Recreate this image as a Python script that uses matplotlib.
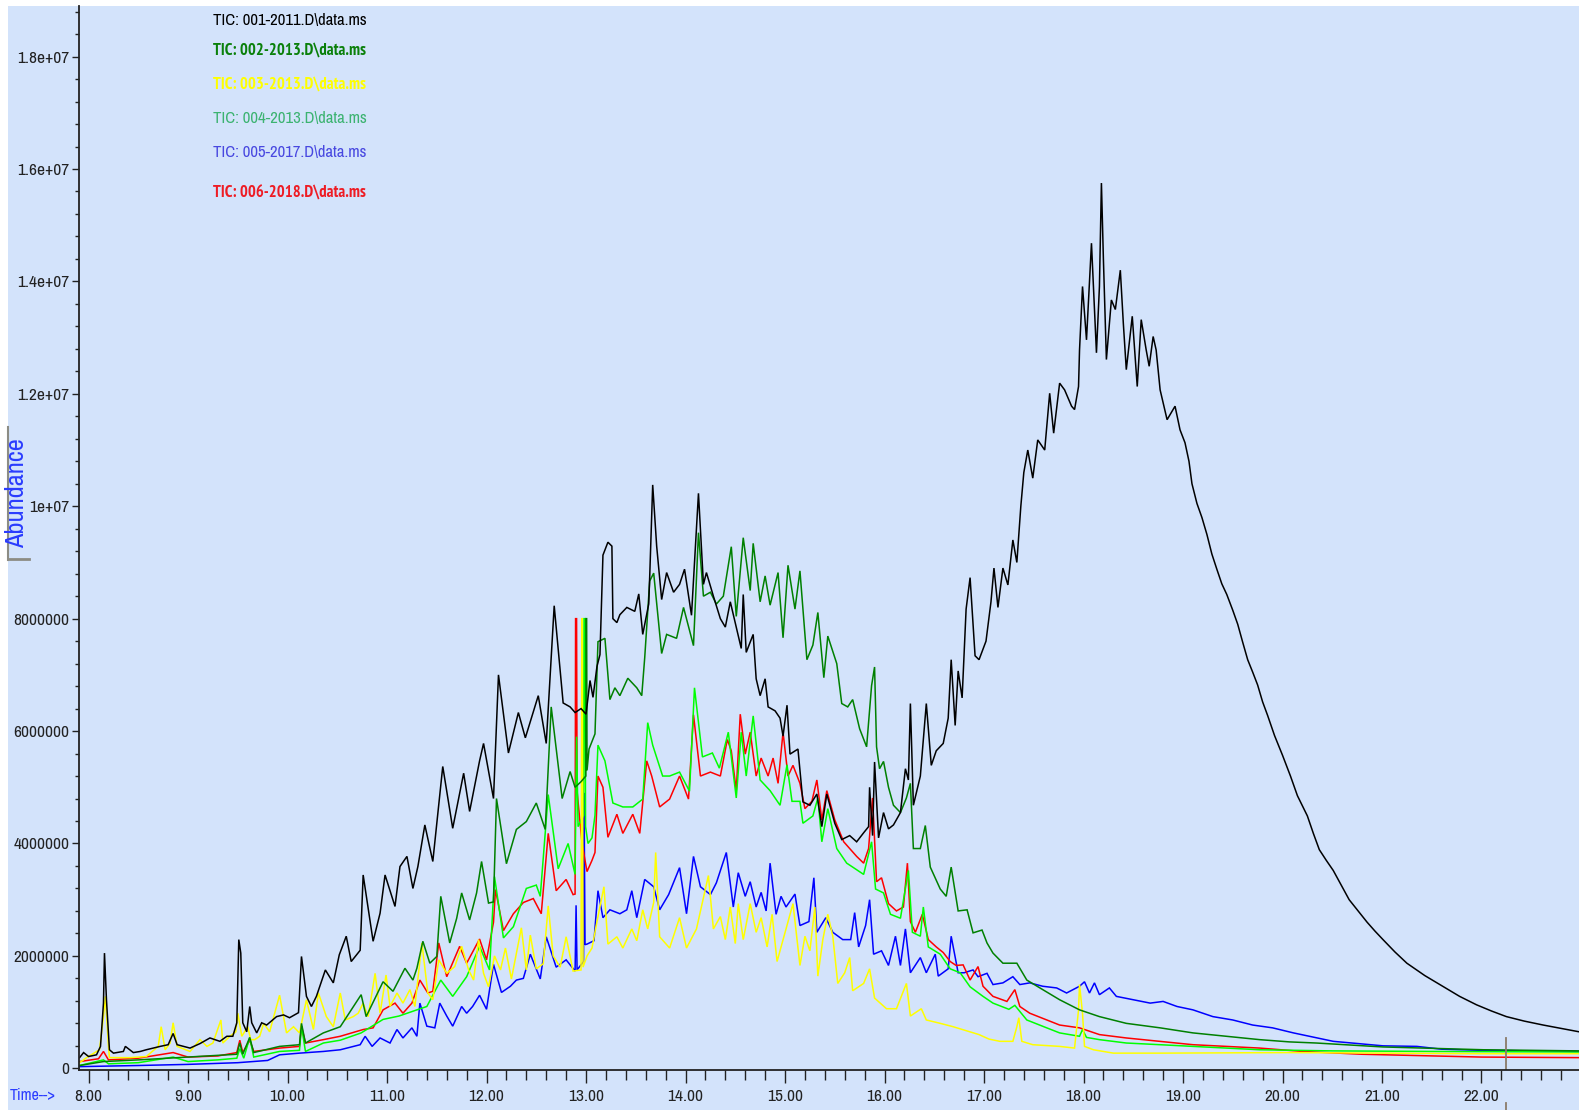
import numpy as np
import matplotlib
matplotlib.use("Agg")
import matplotlib.pyplot as plt
from matplotlib import font_manager
from matplotlib.font_manager import FontProperties
from matplotlib.lines import Line2D
from matplotlib.patches import Rectangle


# the chart uses a narrow sans face; take the narrowest sans one we have
def narrow_font(bold=False):
    best = None
    for f in font_manager.fontManager.ttflist:
        if "Mono" in f.name or "Serif" in f.name or f.style != "normal":
            continue
        w = f.weight if isinstance(f.weight, int) else (700 if "bold" in str(f.weight) else 400)
        if (w >= 600) != bold:
            continue
        st = str(f.stretch)
        score = None
        if "Liberation Sans Narrow" in f.name or "Arial Narrow" in f.name:
            score = 0
        elif "Narrow" in f.name:
            score = 1
        elif "Condensed" in f.name and "Semi" not in f.name and "Extra" not in f.name:
            score = 2
        elif st in ("condensed", "extra-condensed", "ultra-condensed"):
            score = 3
        elif st == "semi-condensed" or "SemiCondensed" in f.name:
            score = 4
        if score is not None and (best is None or score < best[0]):
            best = (score, f.fname)
    if best is None:
        return None
    return best[1]


reg_file = narrow_font(False)
bold_file = narrow_font(True) or reg_file
have_narrow = reg_file is not None


def fp(size, bold=False):
    if have_narrow:
        return FontProperties(fname=bold_file if bold else reg_file, size=size)
    return FontProperties(family="Liberation Sans", size=size * 0.85,
                          weight="bold" if bold else "normal")


# ---- data (time in min, abundance in millions) ----
t001 = [7.91, 7.95, 8.00, 8.08, 8.12, 8.15, 8.16, 8.18, 8.21, 8.25, 8.35, 8.37, 8.45, 8.52, 8.58,
        8.72, 8.80, 8.85, 8.89, 9.02, 9.12, 9.22, 9.32, 9.39, 9.45, 9.49, 9.51, 9.53, 9.55, 9.59,
        9.62, 9.64, 9.69, 9.74, 9.79, 9.89, 9.96, 10.02, 10.11, 10.14, 10.19, 10.24, 10.29, 10.38,
        10.46, 10.52, 10.59, 10.64, 10.73, 10.76, 10.86, 10.93, 10.98, 11.08, 11.13, 11.20, 11.26,
        11.31, 11.38, 11.46, 11.56, 11.66, 11.77, 11.83, 11.93, 11.97, 12.07, 12.12, 12.22, 12.32,
        12.39, 12.52, 12.60, 12.68, 12.77, 12.84, 12.89, 12.95, 13.00, 13.04, 13.07, 13.11, 13.14,
        13.17, 13.22, 13.26, 13.27, 13.31, 13.34, 13.41, 13.49, 13.53, 13.57, 13.63, 13.64, 13.67,
        13.71, 13.76, 13.81, 13.88, 13.94, 13.99, 14.06, 14.11, 14.13, 14.18, 14.21, 14.28, 14.35,
        14.40, 14.45, 14.50, 14.56, 14.58, 14.61, 14.68, 14.71, 14.75, 14.80, 14.83, 14.90, 14.95,
        14.98, 15.02, 15.05, 15.13, 15.18, 15.25, 15.32, 15.37, 15.42, 15.50, 15.57, 15.65, 15.72,
        15.79, 15.84, 15.85, 15.88, 15.90, 15.94, 15.99, 16.04, 16.09, 16.16, 16.21, 16.24, 16.26,
        16.29, 16.36, 16.42, 16.47, 16.52, 16.59, 16.64, 16.67, 16.71, 16.74, 16.78, 16.82, 16.86,
        16.91, 16.95, 17.02, 17.07, 17.10, 17.14, 17.19, 17.24, 17.29, 17.33, 17.37, 17.40, 17.44,
        17.49, 17.54, 17.61, 17.66, 17.70, 17.76, 17.81, 17.88, 17.91, 17.95, 17.96, 17.99, 18.03,
        18.08, 18.13, 18.16, 18.18, 18.20, 18.23, 18.28, 18.32, 18.37, 18.40, 18.43, 18.49, 18.54,
        18.58, 18.63, 18.66, 18.70, 18.73, 18.77, 18.84, 18.92, 18.97, 19.02, 19.06, 19.09, 19.14,
        19.19, 19.24, 19.29, 19.34, 19.39, 19.44, 19.50, 19.55, 19.60, 19.65, 19.70, 19.75, 19.80,
        19.85, 19.92, 20.00, 20.08, 20.15, 20.25, 20.31, 20.37, 20.44, 20.51, 20.59, 20.67, 20.76,
        20.85, 20.93, 21.01, 21.13, 21.25, 21.43, 21.61, 21.78, 21.95, 22.10, 22.25, 22.43, 22.62,
        22.80, 22.98]
a001 = [0.19, 0.28, 0.21, 0.24, 0.39, 1.16, 2.05, 1.22, 0.33, 0.27, 0.30, 0.39, 0.28, 0.30, 0.33,
        0.39, 0.42, 0.62, 0.42, 0.36, 0.44, 0.54, 0.48, 0.57, 0.57, 0.81, 2.29, 2.05, 0.81, 0.65,
        1.10, 0.81, 0.63, 0.81, 0.77, 0.92, 0.95, 0.90, 0.99, 1.99, 1.28, 1.10, 1.28, 1.75,
        1.52, 2.02, 2.35, 1.90, 2.10, 3.44, 2.26, 2.76, 3.44, 2.88, 3.59, 3.77, 3.20,
        3.59, 4.33, 3.68, 5.37, 4.27, 5.25, 4.57, 5.47, 5.78, 4.80, 7.00, 5.61, 6.33,
        5.88, 6.63, 5.78, 8.23, 6.50, 6.43, 6.33, 6.40, 6.30, 6.90, 6.60, 7.15, 7.36,
        9.13, 9.36, 9.29, 8.00, 7.93, 8.07, 8.20, 8.13, 8.44, 7.72, 8.26, 8.75, 10.38,
        9.29, 8.34, 8.82, 8.47, 8.61, 8.88, 8.06, 9.63, 10.23, 8.61, 8.82, 8.40, 8.00,
        7.85, 8.30, 7.92, 7.47, 8.43, 7.40, 7.72, 6.93, 6.63, 6.93, 6.43, 6.36, 6.23,
        5.91, 6.46, 5.59, 5.68, 4.74, 4.68, 4.88, 4.30, 4.88, 4.36, 4.07, 4.14, 4.03,
        4.19, 4.30, 5.00, 4.14, 5.45, 4.10, 4.55, 4.26, 4.33, 4.55, 5.33, 5.13, 6.49,
        4.68, 5.20, 6.49, 5.39, 5.65, 5.78, 6.23, 7.27, 6.10, 7.07, 6.59, 8.17, 8.73,
        7.34, 7.27, 7.60, 8.30, 8.90, 8.20, 8.90, 8.60, 9.40, 9.00, 10.00, 10.60, 11.00,
        10.50, 11.18, 11.00, 12.01, 11.30, 12.19, 12.07, 11.78, 11.72, 12.13, 12.78, 13.91, 12.96,
        14.68, 12.73, 13.91, 15.75, 14.39, 12.61, 13.67, 13.50, 14.20, 13.26, 12.43, 13.38, 12.13,
        13.32, 12.78, 12.49, 13.02, 12.78, 12.07, 11.54, 11.78, 11.36, 11.13, 10.80, 10.40, 10.05,
        9.80, 9.50, 9.15, 8.88, 8.62, 8.43, 8.15, 7.90, 7.58, 7.27, 7.05, 6.82, 6.52,
        6.28, 5.92, 5.57, 5.20, 4.85, 4.49, 4.18, 3.89, 3.70, 3.52, 3.26, 3.00, 2.80,
        2.60, 2.44, 2.29, 2.07, 1.87, 1.65, 1.46, 1.28, 1.13, 1.02, 0.92, 0.84, 0.77,
        0.71, 0.65]

t002 = [7.91, 8.15, 8.50, 9.00, 9.49, 9.52, 9.55, 9.62, 9.66, 9.92, 10.12, 10.14, 10.18, 10.36,
        10.53, 10.74, 10.79, 10.96, 11.06, 11.18, 11.26, 11.30, 11.36, 11.43, 11.50, 11.54, 11.63,
        11.70, 11.75, 11.83, 11.90, 11.95, 12.02, 12.07, 12.10, 12.20, 12.30, 12.40, 12.50, 12.59,
        12.65, 12.76, 12.84, 12.89, 12.95, 12.998, 13.0, 13.006, 13.01, 13.03, 13.09, 13.12, 13.19,
        13.24, 13.29, 13.34, 13.42, 13.51, 13.56, 13.59, 13.64, 13.68, 13.76, 13.81, 13.91, 13.98,
        14.08, 14.13, 14.18, 14.25, 14.31, 14.38, 14.46, 14.51, 14.58, 14.65, 14.68, 14.75, 14.80,
        14.85, 14.93, 14.98, 15.03, 15.10, 15.15, 15.22, 15.28, 15.33, 15.39, 15.43, 15.52, 15.57,
        15.63, 15.68, 15.75, 15.82, 15.87, 15.90, 15.92, 15.95, 15.99, 16.04, 16.09, 16.16, 16.22,
        16.26, 16.29, 16.36, 16.41, 16.46, 16.56, 16.62, 16.67, 16.74, 16.83, 16.89, 16.98, 17.03,
        17.09, 17.19, 17.33, 17.43, 17.59, 17.76, 17.96, 18.16, 18.43, 18.77, 19.10, 19.44, 19.77,
        20.07, 20.34, 21.01, 22.02, 22.98]
a002 = [0.05, 0.12, 0.15, 0.20, 0.25, 0.45, 0.25, 0.55, 0.28, 0.39, 0.42, 0.80, 0.45, 0.63,
        0.74, 1.31, 0.92, 1.54, 1.37, 1.78, 1.57, 1.78, 2.26, 1.87, 1.99, 3.06, 2.23,
        2.67, 3.12, 2.64, 3.12, 3.68, 2.94, 2.96, 4.80, 3.64, 4.25, 4.39, 4.72, 4.25,
        6.43, 4.80, 5.28, 5.00, 5.10, 5.20, 8.00, 8.00, 5.30, 5.68, 5.95, 7.59, 7.65,
        6.56, 6.77, 6.63, 6.94, 6.77, 6.63, 7.31, 8.67, 8.81, 7.38, 7.72, 7.65, 8.20,
        7.52, 9.53, 8.40, 8.47, 8.26, 8.40, 9.28, 8.04, 9.44, 8.50, 9.34, 8.30, 8.76,
        8.24, 8.82, 7.66, 8.95, 8.17, 8.85, 7.27, 7.53, 8.11, 6.95, 7.69, 7.20, 6.49,
        6.43, 6.56, 6.04, 5.72, 6.81, 7.14, 5.72, 5.33, 5.46, 5.00, 4.68, 4.55, 4.81,
        5.07, 3.91, 3.91, 4.32, 3.58, 3.19, 3.06, 3.58, 2.80, 2.82, 2.41, 2.46, 2.23,
        2.05, 1.87, 1.87, 1.57, 1.40, 1.22, 1.04, 0.92, 0.80, 0.72, 0.63, 0.57, 0.51,
        0.47, 0.45, 0.38, 0.33, 0.31]

t003 = [7.91, 7.98, 8.11, 8.15, 8.17, 8.20, 8.21, 8.42, 8.58, 8.70, 8.73, 8.77, 8.82, 8.85, 8.89,
        9.02, 9.12, 9.19, 9.25, 9.33, 9.35, 9.42, 9.48, 9.50, 9.54, 9.60, 9.63, 9.67, 9.72, 9.76,
        9.82, 9.92, 9.99, 10.06, 10.12, 10.19, 10.26, 10.31, 10.39, 10.46, 10.53, 10.58, 10.66,
        10.71, 10.76, 10.81, 10.88, 10.93, 10.99, 11.03, 11.10, 11.16, 11.23, 11.28, 11.35, 11.41,
        11.46, 11.52, 11.60, 11.68, 11.75, 11.82, 11.87, 11.92, 11.97, 12.02, 12.08, 12.14, 12.19,
        12.25, 12.35, 12.40, 12.44, 12.50, 12.57, 12.62, 12.67, 12.74, 12.80, 12.87, 12.95, 12.958,
        12.962, 12.97, 13.01, 13.06, 13.11, 13.18, 13.22, 13.31, 13.37, 13.46, 13.51, 13.57, 13.62,
        13.68, 13.70, 13.74, 13.84, 13.94, 14.01, 14.11, 14.23, 14.28, 14.35, 14.40, 14.45, 14.50,
        14.53, 14.58, 14.65, 14.71, 14.76, 14.82, 14.87, 14.92, 14.97, 15.03, 15.08, 15.15, 15.20,
        15.25, 15.30, 15.33, 15.38, 15.43, 15.48, 15.53, 15.60, 15.65, 15.68, 15.79, 15.85, 15.90,
        16.02, 16.12, 16.22, 16.26, 16.37, 16.42, 16.56, 16.69, 16.82, 16.95, 17.05, 17.16, 17.29,
        17.33, 17.35, 17.38, 17.49, 17.76, 17.91, 17.95, 17.96, 17.99, 18.01, 18.10, 18.30, 18.77,
        20.07, 21.00, 22.00, 22.98]
a003 = [0.10, 0.19, 0.33, 0.92, 1.28, 0.39, 0.19, 0.19, 0.21, 0.39, 0.74, 0.33, 0.45, 0.81, 0.39,
        0.30, 0.51, 0.39, 0.45, 0.86, 0.45, 0.57, 0.65, 0.98, 0.57, 0.74, 0.51, 0.51, 0.57, 0.80,
        0.65, 1.30, 0.63, 0.74, 0.63, 1.22, 0.69, 1.34, 0.92, 0.74, 1.34, 0.86, 0.92,
        0.98, 1.16, 0.92, 1.69, 0.98, 1.66, 1.10, 1.34, 1.16, 1.40, 1.10, 2.23, 1.34,
        1.22, 1.93, 1.69, 1.81, 2.17, 1.75, 1.57, 2.29, 1.69, 1.45, 2.00, 1.75, 2.14,
        1.59, 2.50, 1.75, 2.37, 1.77, 1.86, 2.89, 2.00, 1.80, 2.34, 1.73, 1.75, 8.00,
        8.00, 1.80, 2.00, 2.14, 2.61, 3.23, 2.21, 2.34, 2.14, 2.48, 2.27, 2.82, 2.48,
        2.95, 3.84, 2.34, 2.14, 2.68, 2.14, 2.48, 3.43, 2.48, 2.70, 2.29, 2.87, 2.22,
        2.93, 2.29, 2.93, 2.42, 2.68, 2.16, 2.74, 1.90, 2.22, 2.61, 2.93, 1.83, 2.35,
        2.09, 2.87, 1.64, 2.29, 2.74, 2.35, 1.51, 1.70, 1.97, 1.38, 1.51, 1.77, 1.25,
        1.06, 1.06, 1.51, 0.93, 1.06, 0.86, 0.80, 0.74, 0.67, 0.60, 0.52, 0.48, 0.48,
        0.74, 0.90, 0.48, 0.42, 0.39, 0.36, 1.04, 1.49, 0.98, 0.39, 0.33, 0.27, 0.27,
        0.28, 0.27, 0.26, 0.26]

t004 = [7.91, 8.15, 8.20, 8.50, 8.85, 9.00, 9.30, 9.49, 9.52, 9.56, 9.62, 9.66, 9.92, 10.12, 10.14,
        10.18, 10.36, 10.53, 10.74, 10.96, 11.12, 11.30, 11.40, 11.54, 11.66, 11.80, 11.93, 12.03,
        12.08, 12.17, 12.27, 12.40, 12.50, 12.54, 12.62, 12.72, 12.82, 12.89, 12.905, 12.92, 12.975,
        12.98, 12.99, 12.995, 13.02, 13.06, 13.09, 13.12, 13.19, 13.27, 13.37, 13.47, 13.57, 13.62,
        13.67, 13.77, 13.84, 13.94, 14.04, 14.09, 14.17, 14.27, 14.34, 14.43, 14.51, 14.56, 14.61,
        14.68, 14.75, 14.85, 14.95, 15.02, 15.07, 15.15, 15.18, 15.28, 15.33, 15.37, 15.43, 15.52,
        15.62, 15.68, 15.79, 15.87, 15.91, 15.99, 16.06, 16.16, 16.24, 16.28, 16.36, 16.39, 16.44,
        16.56, 16.66, 16.76, 16.86, 16.99, 17.09, 17.25, 17.31, 17.43, 17.63, 17.76, 17.96, 17.99,
        18.03, 18.16, 18.43, 18.77, 19.10, 19.77, 20.50, 21.50, 22.98]
a004 = [0.05, 0.15, 0.08, 0.10, 0.20, 0.12, 0.15, 0.18, 0.35, 0.18, 0.55, 0.20, 0.30, 0.32, 0.75,
        0.30, 0.45, 0.50, 0.63, 0.87, 0.93, 1.04, 1.10, 1.57, 1.28, 1.63, 2.17, 1.75,
        3.41, 2.32, 2.52, 3.20, 3.26, 3.06, 4.87, 3.55, 4.00, 3.45, 5.90, 4.30, 4.50,
        8.00, 8.00, 4.30, 4.00, 4.10, 4.50, 5.75, 5.47, 4.72, 4.65, 4.65, 4.79, 6.15,
        5.75, 5.20, 5.20, 5.27, 4.93, 6.77, 5.54, 5.61, 5.34, 5.98, 4.81, 5.98, 5.20,
        6.27, 5.13, 4.94, 4.68, 5.40, 4.75, 4.75, 4.36, 4.49, 4.81, 4.03, 4.62, 3.91,
        3.65, 3.58, 3.45, 4.03, 3.19, 3.12, 2.74, 2.67, 3.52, 2.42, 2.35, 2.87, 2.16,
        2.03, 1.77, 1.70, 1.45, 1.28, 1.16, 1.05, 1.12, 0.86, 0.72, 0.63, 0.57, 0.69,
        0.55, 0.51, 0.45, 0.42, 0.39, 0.33, 0.31, 0.30, 0.29]

t005 = [7.91, 8.50, 9.00, 9.50, 9.80, 9.92, 10.12, 10.36, 10.53, 10.73, 10.78, 10.85, 10.93, 11.03,
        11.10, 11.16, 11.25, 11.30, 11.33, 11.40, 11.48, 11.53, 11.60, 11.66, 11.75, 11.80, 11.86,
        11.93, 12.00, 12.07, 12.15, 12.24, 12.30, 12.37, 12.44, 12.54, 12.60, 12.70, 12.80, 12.89,
        12.90, 12.91, 12.975, 12.98, 12.99, 13.01, 13.08, 13.12, 13.17, 13.24, 13.34, 13.41, 13.46,
        13.51, 13.59, 13.68, 13.74, 13.83, 13.94, 14.01, 14.08, 14.15, 14.25, 14.31, 14.41, 14.48,
        14.53, 14.60, 14.65, 14.71, 14.76, 14.81, 14.85, 14.91, 14.96, 15.01, 15.10, 15.15, 15.24,
        15.29, 15.32, 15.41, 15.48, 15.58, 15.66, 15.70, 15.74, 15.81, 15.85, 15.89, 15.97, 16.04,
        16.11, 16.16, 16.21, 16.26, 16.36, 16.42, 16.51, 16.54, 16.64, 16.67, 16.74, 16.80, 16.89,
        16.94, 17.03, 17.09, 17.19, 17.29, 17.36, 17.46, 17.59, 17.73, 17.83, 17.96, 18.01, 18.06,
        18.11, 18.16, 18.26, 18.33, 18.50, 18.67, 18.80, 18.94, 19.10, 19.30, 19.50, 19.70, 19.90,
        20.11, 20.51, 21.01, 21.35, 21.60, 22.00, 22.98]
a005 = [0.03, 0.05, 0.07, 0.10, 0.14, 0.24, 0.27, 0.30, 0.33, 0.42, 0.57, 0.39, 0.54, 0.45,
        0.69, 0.54, 0.72, 0.57, 1.16, 0.75, 0.72, 1.16, 0.93, 0.75, 1.10, 0.98, 1.10,
        1.30, 1.05, 1.85, 1.35, 1.46, 1.57, 1.60, 2.03, 1.59, 2.34, 1.80, 1.93, 1.73,
        2.90, 1.75, 1.90, 4.90, 2.20, 2.21, 2.27, 3.16, 2.68, 2.82, 2.75, 2.82, 3.16,
        2.68, 3.36, 3.23, 2.82, 3.09, 3.57, 2.75, 3.77, 3.23, 3.09, 3.30, 3.84, 2.87,
        3.48, 3.06, 3.32, 2.87, 3.13, 2.80, 3.65, 2.74, 3.06, 2.87, 3.10, 2.54, 2.61,
        3.39, 2.42, 2.68, 2.42, 2.29, 2.29, 2.77, 2.16, 2.54, 3.00, 2.03, 2.09, 1.83,
        2.35, 1.83, 2.48, 1.70, 1.97, 1.70, 2.03, 1.64, 1.77, 2.35, 1.70, 1.70, 1.75,
        1.63, 1.69, 1.49, 1.52, 1.63, 1.49, 1.52, 1.46, 1.43, 1.34, 1.46, 1.54, 1.34,
        1.52, 1.31, 1.43, 1.28, 1.22, 1.16, 1.19, 1.10, 1.04, 0.92, 0.86, 0.77, 0.72,
        0.63, 0.48, 0.40, 0.39, 0.34, 0.32, 0.30]

t006 = [7.91, 8.10, 8.15, 8.20, 8.50, 8.85, 9.00, 9.30, 9.49, 9.52, 9.55, 9.62, 9.66, 9.92, 10.12,
        10.14, 10.18, 10.36, 10.53, 10.76, 10.86, 10.96, 11.08, 11.16, 11.25, 11.33, 11.41, 11.46,
        11.52, 11.60, 11.73, 11.80, 11.93, 12.00, 12.07, 12.09, 12.17, 12.27, 12.37, 12.47, 12.55,
        12.62, 12.70, 12.80, 12.87, 12.89, 12.895, 12.905, 12.91, 12.96, 13.01, 13.06, 13.09, 13.12,
        13.17, 13.22, 13.31, 13.37, 13.47, 13.54, 13.61, 13.66, 13.74, 13.84, 13.94, 14.03, 14.08,
        14.15, 14.25, 14.35, 14.42, 14.46, 14.51, 14.55, 14.60, 14.65, 14.71, 14.76, 14.83, 14.88,
        14.93, 14.98, 15.03, 15.08, 15.15, 15.20, 15.27, 15.32, 15.37, 15.42, 15.50, 15.59, 15.65,
        15.72, 15.79, 15.84, 15.88, 15.92, 15.97, 16.04, 16.12, 16.19, 16.23, 16.26, 16.31, 16.38,
        16.44, 16.52, 16.59, 16.66, 16.72, 16.79, 16.86, 16.94, 16.99, 17.09, 17.23, 17.31, 17.36,
        17.46, 17.63, 17.76, 17.96, 18.16, 18.43, 18.77, 19.10, 19.44, 19.77, 20.20, 20.80, 21.50,
        22.00, 22.98]
a006 = [0.12, 0.17, 0.30, 0.15, 0.18, 0.28, 0.20, 0.22, 0.28, 0.50, 0.28, 0.50, 0.30, 0.36, 0.39,
        0.75, 0.45, 0.51, 0.57, 0.69, 0.72, 1.04, 1.16, 0.98, 1.16, 1.57, 1.34, 1.37,
        2.23, 1.63, 2.17, 1.87, 2.30, 1.93, 2.60, 3.18, 2.45, 2.75, 2.95, 3.02, 2.75,
        4.18, 3.16, 3.36, 3.09, 3.10, 8.00, 8.00, 4.93, 4.00, 3.50, 3.70, 3.84, 5.20,
        5.00, 4.11, 4.52, 4.18, 4.52, 4.18, 5.47, 5.20, 4.65, 4.79, 5.20, 4.79, 6.29,
        5.20, 5.27, 5.20, 5.85, 5.65, 4.94, 6.30, 5.59, 5.98, 5.20, 5.52, 5.20, 5.52,
        5.07, 5.98, 5.20, 5.39, 5.07, 4.62, 4.75, 5.13, 4.42, 4.94, 4.42, 4.03, 3.91,
        3.77, 3.65, 3.91, 4.81, 3.32, 3.39, 2.93, 2.80, 2.87, 3.65, 2.61, 2.42, 2.74,
        2.29, 2.16, 2.06, 1.90, 1.83, 1.84, 1.57, 1.81, 1.46, 1.28, 1.19, 1.40, 1.10,
        0.98, 0.86, 0.77, 0.72, 0.60, 0.54, 0.48, 0.42, 0.39, 0.36, 0.30, 0.25, 0.22,
        0.20, 0.19]

series = [
    (t005, a005, "#0000ff"),
    (t006, a006, "#ff0000"),
    (t004, a004, "#00ff00"),
    (t003, a003, "#ffff00"),
    (t002, a002, "#008000"),
    (t001, a001, "#000000"),
]

labels = ["TIC: 001-2011.D\\data.ms", "TIC: 002-2013.D\\data.ms", "TIC: 003-2013.D\\data.ms",
          "TIC: 004-2013.D\\data.ms", "TIC: 005-2017.D\\data.ms", "TIC: 006-2018.D\\data.ms"]
label_colors = ["#000000", "#0a800a", "#ffff00", "#3cb371", "#4848e0", "#ee1c24"]
label_bold = [False, True, True, False, False, True]
label_y = [21, 51, 85, 118, 153, 194]

xticks = [8, 9, 10, 11, 12, 13, 14, 15, 16, 17, 18, 19, 20, 21, 22]
xticklabels = ["%.2f" % v for v in xticks]
yticks = [0, 2e6, 4e6, 6e6, 8e6, 1e7, 1.2e7, 1.4e7, 1.6e7, 1.8e7]
yticklabels = ["0", "2000000", "4000000", "6000000", "8000000", "1e+07", "1.2e+07",
               "1.4e+07", "1.6e+07", "1.8e+07"]

bg = "#d3e3fb"
W, H = 1579, 1110

fig = plt.figure(figsize=(W / 100, H / 100), dpi=100)
fig.patch.set_facecolor("white")
fig.add_artist(Rectangle((8 / W, 0), 1, 1 - 6 / H, transform=fig.transFigure,
                         facecolor=bg, edgecolor="none", zorder=-10))

ax = fig.add_axes([79 / W, 40 / H, 1 - 79 / W, (1070 - 6) / H])
ax.set_facecolor(bg)
ax.patch.set_alpha(0)

for t, a, c in series:
    ax.plot(t, np.array(a) * 1e6, color=c, lw=1.1, solid_joinstyle="miter")

ax.set_xlim(7.904, 22.98)
ax.set_ylim(-0.03e6, 18.9e6)

ax.set_xticks(xticks)
ax.set_xticklabels(xticklabels, fontproperties=fp(12.5))
ax.set_xticks(np.arange(8.0, 23.0, 0.2), minor=True)
ax.set_yticks(yticks)
ax.set_yticklabels(yticklabels, fontproperties=fp(12.5))
ax.set_yticks(np.arange(0, 18.9e6, 4e5), minor=True)

for s in ["top", "right"]:
    ax.spines[s].set_visible(False)
for s in ["left", "bottom"]:
    ax.spines[s].set_color("#222222")
    ax.spines[s].set_linewidth(1.3)

ax.tick_params(axis="both", which="major", direction="out", colors="#222222", width=1.0)
ax.tick_params(axis="x", which="major", length=9, pad=5)
ax.tick_params(axis="y", which="major", length=5, pad=2)
ax.tick_params(axis="x", which="minor", length=7, width=1.0, colors="#222222")
ax.tick_params(axis="y", which="minor", length=3, width=1.0, colors="#222222")

# cursor mark near 22.25 min
ax.axvline(22.25, ymin=0, ymax=0.03, color="#8a7a68", lw=1.3)
ax.plot([22.25, 22.25], [-0.031, -0.045], transform=ax.get_xaxis_transform(),
        color="#8a7a68", lw=1.3, clip_on=False)

# trace names
for lab, col, b, y in zip(labels, label_colors, label_bold, label_y):
    fig.text(213 / W, 1 - y / H, lab, color=col, fontproperties=fp(12, b),
             ha="left", va="center")

# axis captions
fig.text(17 / W, 1 - 493 / H, "Abundance", color="#2a3cff", fontproperties=fp(19),
         rotation=90, ha="center", va="center")
fig.add_artist(Line2D([8 / W, 8 / W], [1 - 427 / H, 1 - 560 / H], transform=fig.transFigure,
                      color="#8c8c84", lw=1.5))
fig.add_artist(Line2D([8 / W, 29 / W], [1 - 559 / H, 1 - 559 / H], transform=fig.transFigure,
                      color="#8c8c84", lw=2))
fig.text(10 / W, 1 - 1096 / H, "Time-->", color="#2a3cff", fontproperties=fp(11.5),
         ha="left", va="center")

fig.savefig("out.png", dpi=100, facecolor=fig.get_facecolor())
